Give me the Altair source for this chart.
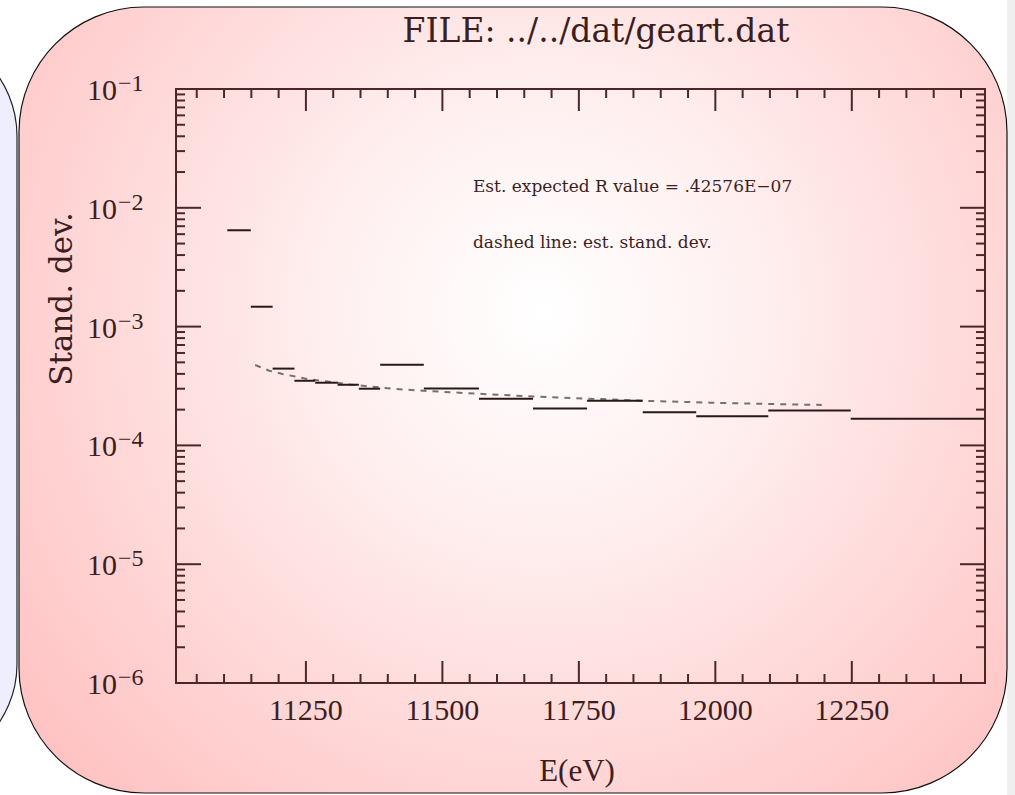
import altair as alt
import pandas as pd

# ---- data ----
bin_edges = [11106, 11149, 11189, 11229, 11267, 11308, 11347, 11386, 11466,
             11567, 11666, 11765, 11867, 11965, 12097, 12248, 12494]
stand_dev = [6.47e-3, 1.47e-3, 4.43e-4, 3.50e-4, 3.37e-4, 3.24e-4, 3.00e-4,
             4.78e-4, 3.02e-4, 2.47e-4, 2.04e-4, 2.38e-4, 1.90e-4, 1.76e-4,
             1.97e-4, 1.68e-4]
est_energy = [11157, 11183, 11207, 11232, 11256, 11330, 11415, 11514, 11673,
              11886, 11990, 12100, 12195]
est_sd = [4.75e-4, 4.25e-4, 3.99e-4, 3.79e-4, 3.60e-4, 3.26e-4, 2.98e-4,
          2.80e-4, 2.57e-4, 2.36e-4, 2.29e-4, 2.23e-4, 2.19e-4]
x_major = [11250, 11500, 11750, 12000, 12250]
x_minor = [v for v in range(11050, 12451, 50) if v not in x_major]
y_exponents = [-6, -5, -4, -3, -2, -1]
y_minor = [m * 10.0 ** d for d in range(-6, -1) for m in range(2, 10)]
notes = ["Est. expected R value = .42576E\u221207", "dashed line: est. stand. dev."]
notes_x = [11556, 11556]
notes_y = [1.358e-2, 4.59e-3]

W, H = 809, 594
INK = "#3c1e1e"
FRAME = "#4d2727"
SERIF = "Liberation Serif"
SERIF2 = "DejaVu Serif"

xs = alt.Scale(domain=[11012, 12494], nice=False, zero=False)
ys = alt.Scale(type="log", domain=[1e-6, 1e-1], nice=False)

one = pd.DataFrame({"a": [0]})
seg = pd.DataFrame({"lo": bin_edges[:-1], "hi": bin_edges[1:], "sd": stand_dev})
est = pd.DataFrame({"e": est_energy, "sd": est_sd})
ymaj = pd.DataFrame({"v": [10.0 ** e for e in y_exponents],
                     "exp": ["\u2212" + str(-e) for e in y_exponents]})
ymin = pd.DataFrame({"v": y_minor})
xmaj = pd.DataFrame({"v": x_major, "t": [str(v) for v in x_major]})
xmin = pd.DataFrame({"v": x_minor})
nt = pd.DataFrame({"x": notes_x, "y": notes_y, "t": notes})

X = lambda f: alt.X(f, scale=xs, axis=None)
Y = lambda f: alt.Y(f, scale=ys, axis=None)

# background page decoration
lav = alt.Chart(one).mark_rect(fill="#eeeeff", stroke="#222222", strokeWidth=1.2,
                               cornerRadius=105).encode(
    x=alt.value(-500), x2=alt.value(-159), y=alt.value(-58), y2=alt.value(680))
grey = alt.Chart(one).mark_rect(fill="#efefef").encode(
    x=alt.value(831), x2=alt.value(845), y=alt.value(-95), y2=alt.value(720))
grad = alt.RadialGradient(
    gradient="radial", x1=0.53, y1=0.41, x2=0.53, y2=0.41, r1=0, r2=0.70,
    stops=[alt.GradientStop(offset=0, color="#ffffff"),
           alt.GradientStop(offset=0.3, color="#fff0f0"),
           alt.GradientStop(offset=1, color="#ffbfbf")])
box = alt.Chart(one).mark_rect(fill=grad, stroke="#111111", strokeWidth=1.2,
                               cornerRadius=125).encode(
    x=alt.value(-157), x2=alt.value(831), y=alt.value(-82), y2=alt.value(704))

frame = alt.Chart(one).mark_rect(filled=False, stroke=FRAME, strokeWidth=2).encode(
    x=alt.value(0), x2=alt.value(W), y=alt.value(0), y2=alt.value(H))

def yt(df, L):
    b = alt.Chart(df).mark_rule(color=FRAME, strokeWidth=2)
    return (b.encode(y=Y("v:Q"), x=alt.value(0), x2=alt.value(L)) +
            b.encode(y=Y("v:Q"), x=alt.value(W), x2=alt.value(W - L)))

def xt(df, L):
    b = alt.Chart(df).mark_rule(color=FRAME, strokeWidth=2)
    return (b.encode(x=X("v:Q"), y=alt.value(H), y2=alt.value(H - L)) +
            b.encode(x=X("v:Q"), y=alt.value(0), y2=alt.value(L)))

ticks = yt(ymaj, 25) + yt(ymin, 9) + xt(xmaj, 22) + xt(xmin, 9)

ylab10 = alt.Chart(ymaj).mark_text(text="10", font=SERIF, fontSize=30, color=INK,
                                   align="right", baseline="alphabetic", dy=11).encode(
    y=Y("v:Q"), x=alt.value(-59))
ylabexp = alt.Chart(ymaj).mark_text(font=SERIF, fontSize=24, color=INK,
                                    align="left", baseline="alphabetic", dy=2).encode(
    y=Y("v:Q"), x=alt.value(-58), text="exp:N")
xlab = alt.Chart(xmaj).mark_text(font=SERIF, fontSize=30, color=INK,
                                 align="center", baseline="alphabetic").encode(
    x=X("v:Q"), y=alt.value(H + 37), text="t:N")

ytitle = alt.Chart(one).mark_text(text="Stand. dev.", font=SERIF2, fontSize=31,
                                  color=INK, angle=270, align="center",
                                  baseline="middle").encode(
    x=alt.value(-113), y=alt.value(210))
xtitle = alt.Chart(one).mark_text(text="E(eV)", font=SERIF, fontSize=31, color=INK,
                                  align="center", baseline="alphabetic").encode(
    x=alt.value(401), y=alt.value(692))
title = alt.Chart(one).mark_text(text="FILE: ../../dat/geart.dat", font=SERIF2,
                                 fontSize=33, color=INK, align="center",
                                 baseline="alphabetic").encode(
    x=alt.value(420), y=alt.value(-47))

notes_layer = alt.Chart(nt).mark_text(font=SERIF2, fontSize=17, color=INK,
                                      align="left", baseline="alphabetic").encode(
    x=X("x:Q"), y=Y("y:Q"), text="t:N")

steps = alt.Chart(seg).mark_rule(color="#2a1818", strokeWidth=2).encode(
    x=X("lo:Q"), x2="hi:Q", y=Y("sd:Q"))
dashed = alt.Chart(est).mark_line(color="#777070", strokeWidth=2,
                                  strokeDash=[6, 6]).encode(
    x=X("e:Q"), y=Y("sd:Q"))

chart = alt.layer(
    lav, grey, box, dashed, steps, ticks, frame, ylab10, ylabexp, xlab,
    ytitle, xtitle, title, notes_layer
).properties(
    width=W, height=H,
    autosize=alt.AutoSizeParams(type="none"),
    padding={"left": 176, "top": 89, "right": 30, "bottom": 112},
).configure(background="#ffffff").configure_view(stroke=None)

chart.save("out.html", embed_options={"renderer": "svg", "actions": False})
